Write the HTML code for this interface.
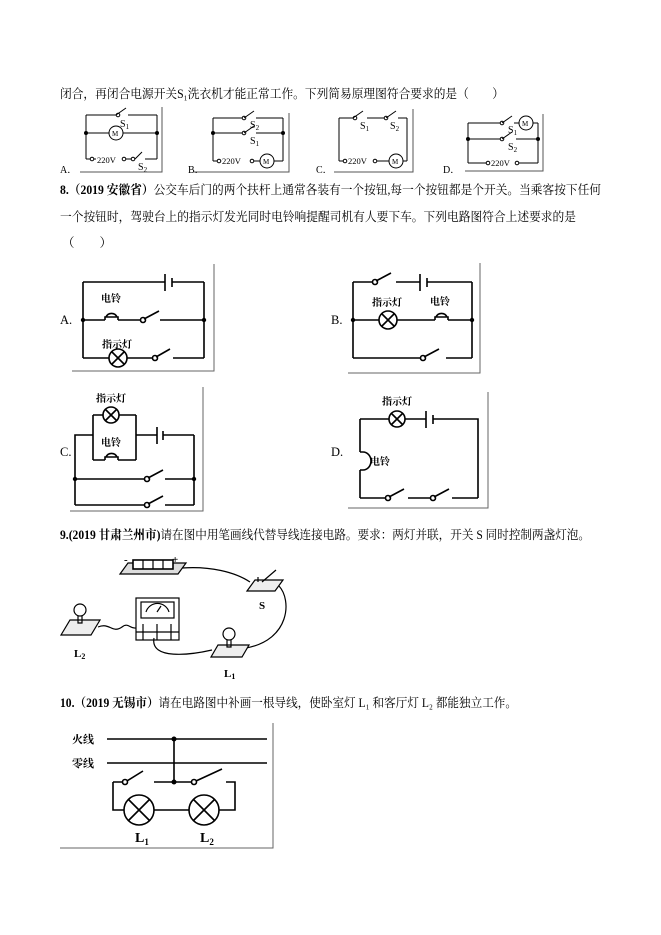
<!DOCTYPE html>
<html><head><meta charset="utf-8"><style>
html,body{margin:0;padding:0;background:#fff;}
svg{display:block;}
text{font-family:"Liberation Serif","Noto Serif CJK SC",serif;fill:#000;}
.t{font-size:12.5px;}
.b{font-weight:bold;}
.s{font-size:10px;}
.cn{font-size:10px;font-weight:bold;font-family:"Liberation Sans","Noto Sans CJK SC",sans-serif;}
</style></head><body>
<svg width="661" height="935" viewBox="0 0 661 935" xmlns="http://www.w3.org/2000/svg">
<g class="t">
<text x="60" y="98" textLength="444" lengthAdjust="spacingAndGlyphs">闭合，再闭合电源开关S₁洗衣机才能正常工作。下列简易原理图符合要求的是（　　）</text>
<text x="60" y="194" textLength="541" lengthAdjust="spacingAndGlyphs"><tspan class="b">8.（2019 安徽省）</tspan>公交车后门的两个扶杆上通常各装有一个按钮,每一个按钮都是个开关。当乘客按下任何</text>
<text x="60" y="221" textLength="516" lengthAdjust="spacingAndGlyphs">一个按钮时，驾驶台上的指示灯发光同时电铃响提醒司机有人要下车。下列电路图符合上述要求的是</text>
<text x="62" y="247">（　　）</text>
<text x="60" y="539" textLength="530" lengthAdjust="spacingAndGlyphs"><tspan class="b">9.(2019 甘肃兰州市)</tspan>请在图中用笔画线代替导线连接电路。要求：两灯并联，开关 S 同时控制两盏灯泡。</text>
<text x="60" y="707" textLength="457" lengthAdjust="spacingAndGlyphs"><tspan class="b">10.（2019 无锡市）</tspan>请在电路图中补画一根导线，使卧室灯 L₁ 和客厅灯 L₂ 都能独立工作。</text>
</g>

<g fill="none" stroke="#000" stroke-width="1">
<!-- top frames -->
<path d="M162 107V172H80M289 113V172H194M413 109V172H334M543 114V171H465" stroke="#555"/>
<!-- top A -->
<path d="M86 115V159M157 115V159M86 115H116M128 115H157M116 115L126 108M86 133H109M123 133H157M86 159H90M94 159H96M126 159H131M135 159L142 152M145 159H157"/>
<circle cx="116" cy="133" r="7"/><circle cx="118" cy="115" r="1.8"/>
<circle cx="92" cy="159" r="1.8"/><circle cx="124" cy="159" r="1.8"/><circle cx="133" cy="159" r="1.8"/>
<!-- top B -->
<path d="M213 118V161M283 118V161M213 118H242M256 118H283M244 118L254 111M213 133H242M256 133H283M244 133L254 126M213 161H217M254 161H260M274 161H283"/>
<circle cx="244" cy="118" r="1.8"/><circle cx="244" cy="133" r="1.8"/><circle cx="219" cy="161" r="1.8"/><circle cx="252" cy="161" r="1.8"/><circle cx="267" cy="161" r="7"/>
<!-- top C -->
<path d="M339 118V161M407 118V161M339 118H353M353 118L363 111M367 118H384M386 118L396 111M398 118H407M339 161H343M377 161H389M403 161H407"/>
<circle cx="355" cy="118" r="1.8"/><circle cx="386" cy="118" r="1.8"/><circle cx="345" cy="161" r="1.8"/><circle cx="375" cy="161" r="1.8"/><circle cx="396" cy="161" r="7"/>
<!-- top D -->
<path d="M468 123V163M538 123V163M468 123H500M502 123L512 116M514 123H519M533 123H538M468 139H500M502 139L512 132M516 139H538M468 163H486M519 163H538"/>
<circle cx="502" cy="123" r="1.8"/><circle cx="502" cy="139" r="1.8"/><circle cx="526" cy="123" r="7"/><circle cx="488" cy="163" r="1.8"/><circle cx="517" cy="163" r="1.8"/>
</g>
<g fill="#000">
<circle cx="86" cy="133" r="2"/><circle cx="157" cy="133" r="2"/>
<circle cx="213" cy="133" r="2"/><circle cx="283" cy="133" r="2"/>
<circle cx="468" cy="139" r="2"/><circle cx="538" cy="139" r="2"/>
</g>
<g class="s">
<text x="60" y="173">A．</text><text x="188" y="173">B．</text><text x="316" y="173">C．</text><text x="443" y="173">D．</text>
<text x="120" y="127">S<tspan font-size="7" dy="2">1</tspan></text>
<text x="138" y="170">S<tspan font-size="7" dy="2">2</tspan></text>
<text x="97" y="163" font-size="8.5">220V</text>
<text x="112" y="136" font-size="7">M</text>
<text x="250" y="128">S<tspan font-size="7" dy="2">2</tspan></text>
<text x="250" y="144">S<tspan font-size="7" dy="2">1</tspan></text>
<text x="222" y="164" font-size="8.5">220V</text><text x="263" y="164" font-size="7">M</text>
<text x="360" y="129">S<tspan font-size="7" dy="2">1</tspan></text>
<text x="390" y="129">S<tspan font-size="7" dy="2">2</tspan></text>
<text x="348" y="164" font-size="8.5">220V</text><text x="392" y="164" font-size="7">M</text>
<text x="508" y="133">S<tspan font-size="7" dy="2">1</tspan></text>
<text x="508" y="150">S<tspan font-size="7" dy="2">2</tspan></text>
<text x="491" y="166" font-size="8.5">220V</text><text x="522" y="126" font-size="7">M</text>
</g>

<!-- Q8 circuits -->
<g fill="none" stroke="#000" stroke-width="1.6">
<!-- A -->
<path d="M83 282V358M204 282V358M83 282H165M172 282H204M165 274V291M172 278V287M83 320H105M118 320H141M160 320H204M105 320V317H118V320M106 317A6 6 0 0 1 117 317M144 319L159 311M83 358H109M127 358H153M156 357L170 349M173 358H204"/>
<circle cx="118" cy="358" r="9"/><path d="M112 352L124 364M124 352L112 364"/>
<circle cx="143" cy="320" r="2.5"/><circle cx="155" cy="358" r="2.5"/>
<!-- B -->
<path d="M353 282V358M472 282V358M353 282H373M376 281L391 273M396 282H420M427 282H472M420 274V291M427 278V287M353 320H379M397 320H435M448 320H472M435 320V317H448V320M436 317A6 6 0 0 1 447 317M353 358H421M424 357L439 349M446 358H472"/>
<circle cx="388" cy="320" r="9"/><path d="M382 314L394 326M394 314L382 326"/>
<circle cx="375" cy="282" r="2.5"/><circle cx="423" cy="358" r="2.5"/>
<!-- C -->
<path d="M93 415V460M136 415V460M93 415H103M119 415H136M93 460H105M118 460H136M105 460V457H118V460M106 457A6 6 0 0 1 117 457M136 435H157M163 435H194M157 427V444M163 431V440M93 435H75V505M194 435V505M75 479H145M148 478L163 470M165 479H194M75 505H145M148 504L163 496M165 505H194"/>
<circle cx="111" cy="415" r="8"/><path d="M105 409L117 421M117 409L105 421"/>
<circle cx="147" cy="479" r="2.5"/><circle cx="147" cy="505" r="2.5"/>
<!-- D -->
<path d="M360 419H389M405 419H426M433 419H478V498M426 411V428M433 415V424M360 419V452M360 470V498M360 452H363A8 9 0 0 1 363 470H360M360 498H386M389 497L404 489M408 498H431M434 497L449 489M452 498H478"/>
<circle cx="397" cy="419" r="8"/><path d="M391 413L403 425M403 413L391 425"/>
<circle cx="388" cy="498" r="2.5"/><circle cx="433" cy="498" r="2.5"/>
</g>
<g fill="none" stroke="#666" stroke-width="1">
<path d="M214 264V371H72M480 263V373H348M203 387V511H70M488 392V508H348"/>
</g>
<g fill="#000">
<circle cx="83" cy="320" r="2.2"/><circle cx="204" cy="320" r="2.2"/>
<circle cx="353" cy="320" r="2.2"/><circle cx="472" cy="320" r="2.2"/>
<circle cx="75" cy="479" r="2.2"/><circle cx="194" cy="479" r="2.2"/>
</g>
<g class="cn">
<text x="101" y="302">电铃</text><text x="102" y="348">指示灯</text>
<text x="372" y="306">指示灯</text><text x="430" y="305">电铃</text>
<text x="96" y="402">指示灯</text><text x="101" y="446">电铃</text>
<text x="382" y="405">指示灯</text><text x="370" y="465">电铃</text>
</g>
<g class="t"><text x="60" y="324">A.</text><text x="331" y="324">B.</text><text x="60" y="456">C.</text><text x="331" y="456">D.</text></g>

<!-- Q9 picture -->
<g fill="none" stroke="#000" stroke-width="1.2">
<path d="M120 574L128 563H186L178 574Z" fill="#ddd"/>
<rect x="133" y="560" width="40" height="9" fill="#fff" stroke-width="1.6"/>
<path d="M143 560V569M153 560V569M163 560V569"/>
<path d="M182 568C210 566 235 572 250 582"/>
<path d="M247 591L255 580H283L275 591Z" fill="#eee"/>
<path d="M258 582V577M262 582L276 570"/>
<path d="M279 586C292 600 290 640 246 648"/>
<rect x="136" y="598" width="43" height="42" fill="#fff"/>
<rect x="141" y="602" width="33" height="16" fill="#fff"/>
<path d="M146 612A12 12 0 0 1 169 612M157 612L161 606"/>
<path d="M136 632H179M143 624V640M157 624V640M171 624V640"/>
<path d="M61 635L70 620H100L91 635Z" fill="#eee"/>
<circle cx="80" cy="610" r="6"/><path d="M78 616V623H82V616"/>
<path d="M98 627C110 622 112 634 122 627C128 622 130 629 136 628"/>
<path d="M211 657L218 645H249L242 657Z" fill="#eee"/>
<circle cx="229" cy="634" r="6"/><path d="M227 640V647H231V640"/>
<path d="M154 638C150 660 190 655 212 650"/>
</g>
<g class="t b">
<text x="124" y="563" font-size="11">-</text><text x="172" y="563" font-size="11">+</text>
<text x="259" y="609" font-size="11">S</text>
<text x="74" y="657" font-size="11">L<tspan font-size="8" dy="2">2</tspan></text>
<text x="224" y="677" font-size="11">L<tspan font-size="8" dy="2">1</tspan></text>
</g>

<!-- Q10 picture -->
<g fill="none" stroke="#000" stroke-width="1.6">
<path d="M107 739H267M107 763H267M174 739V782M113 782H123M113 782V810H124M154 810H189M219 810H235V782H226M127 781L143 771M154 782H192M196 781L222 769"/>
<circle cx="139" cy="810" r="15"/><path d="M128 799L150 821M150 799L128 821"/>
<circle cx="204" cy="810" r="15"/><path d="M193 799L215 821M215 799L193 821"/>
<circle cx="125" cy="782" r="2.5" fill="#fff"/><circle cx="194" cy="782" r="2.5" fill="#fff"/>
</g>
<g fill="#000"><circle cx="174" cy="739" r="2.5"/><circle cx="174" cy="782" r="2.5"/></g>
<path d="M273 723V848H60" fill="none" stroke="#666" stroke-width="1"/>
<g class="cn" fill="#444"><text x="72" y="743" font-size="11">火线</text><text x="72" y="767" font-size="11">零线</text></g>
<g class="t b"><text x="135" y="842" font-size="14">L<tspan font-size="9" dy="3">1</tspan></text><text x="200" y="842" font-size="14">L<tspan font-size="9" dy="3">2</tspan></text></g>
</svg>
</body></html>
